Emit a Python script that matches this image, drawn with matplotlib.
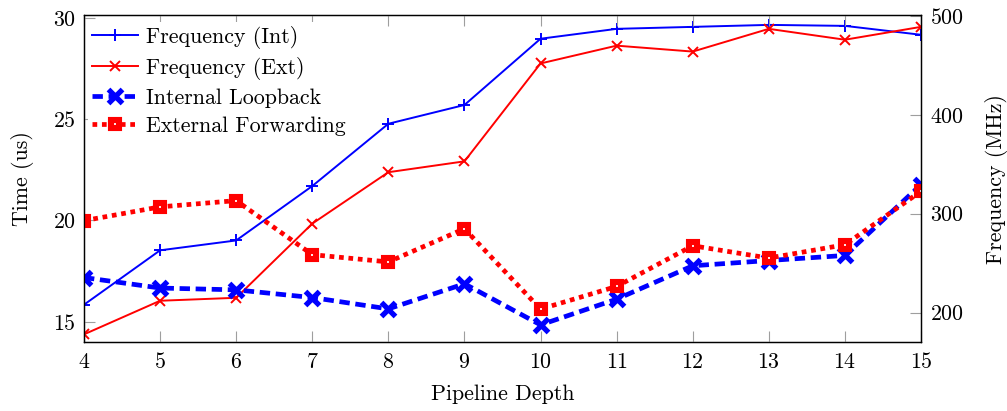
import matplotlib
matplotlib.use("Agg")
import matplotlib.pyplot as plt

plt.rcParams["font.family"] = "cmr10"
plt.rcParams["axes.formatter.use_mathtext"] = True
plt.rcParams["font.size"] = 15.8

# Pipeline depth on the x axis
depth = [4, 5, 6, 7, 8, 9, 10, 11, 12, 13, 14, 15]

# Achieved clock frequency (MHz), right axis
freq_int = [208, 263, 273, 328, 391, 410, 477, 487, 489, 491, 490, 481]
freq_ext = [178, 212, 215, 290, 342, 353, 452, 470, 464, 487, 476, 489]

# Measured time (us), left axis
t_loopback = [17.18, 16.66, 16.57, 16.19, 15.63, 16.87, 14.84, 16.11, 17.76, 18.02, 18.27, 21.77]
t_forwarding = [19.99, 20.67, 20.98, 18.31, 17.95, 19.59, 15.62, 16.74, 18.75, 18.14, 18.80, 21.44]

x_ticks = depth
time_ticks = [15, 20, 25, 30]
freq_ticks = [200, 300, 400, 500]

fig = plt.figure(figsize=(10.07, 4.11), dpi=100)
ax = fig.add_axes([0.0834, 0.1672, 0.8312, 0.7963])
ax2 = ax.twinx()

# Frequency lines on the right axis
h_int, = ax2.plot(depth, freq_int, color="blue", lw=1.4, marker="+",
                  markersize=9, mew=1.4, label="Frequency (Int)")
h_ext, = ax2.plot(depth, freq_ext, color="red", lw=1.4, marker="x",
                  markersize=6.5, mew=1.4, label="Frequency (Ext)")

# Timing lines on the left axis
h_loop, = ax.plot(depth, t_loopback, color="blue", lw=3.4,
                  linestyle=(0, (2.2, 1.2)), marker="x", markersize=9.5,
                  mew=3.8, label="Internal Loopback")
h_fwd, = ax.plot(depth, t_forwarding, color="red", lw=3.4,
                 linestyle=(0, (1.0, 1.0)), marker="s", markersize=6.4,
                 mew=4.4, markerfacecolor="white", markeredgecolor="red",
                 label="External Forwarding")

ax.set_zorder(ax2.get_zorder() + 1)
ax.patch.set_visible(False)

ax.set_xlim(4, 15)
ax.set_ylim(13.98, 30.15)
ax2.set_ylim(170, 501)

ax.set_xticks(x_ticks)
ax.set_yticks(time_ticks)
ax2.set_yticks(freq_ticks)

tick_kw = dict(direction="in", length=8, width=0.8, color="0.62", labelcolor="black")
ax.tick_params(axis="x", top=True, pad=7, **tick_kw)
ax.tick_params(axis="y", left=True, right=False, pad=6, **tick_kw)
ax2.tick_params(axis="y", right=True, left=False, pad=6.5, **tick_kw)

for a in (ax, ax2):
    for s in a.spines.values():
        s.set_linewidth(0.9)
        s.set_color("black")

ax.set_xlabel("Pipeline Depth")
ax.set_ylabel("Time (us)")
ax2.set_ylabel("Frequency (MHz)")
ax.xaxis.set_label_coords(0.5, -0.128)
ax.yaxis.set_label_coords(-0.06, 0.5)
ax2.yaxis.set_label_coords(1.077, 0.5)

leg = ax.legend(handles=[h_int, h_ext, h_loop, h_fwd], loc="upper left",
                bbox_to_anchor=(0.0, 0.992), frameon=True, fancybox=False,
                framealpha=1.0, facecolor="white", edgecolor="none",
                handlelength=2.1, handletextpad=0.35, labelspacing=0.38,
                borderaxespad=0.18, borderpad=0.18, fontsize=15.8)

fig.savefig("out.png", dpi=100)
